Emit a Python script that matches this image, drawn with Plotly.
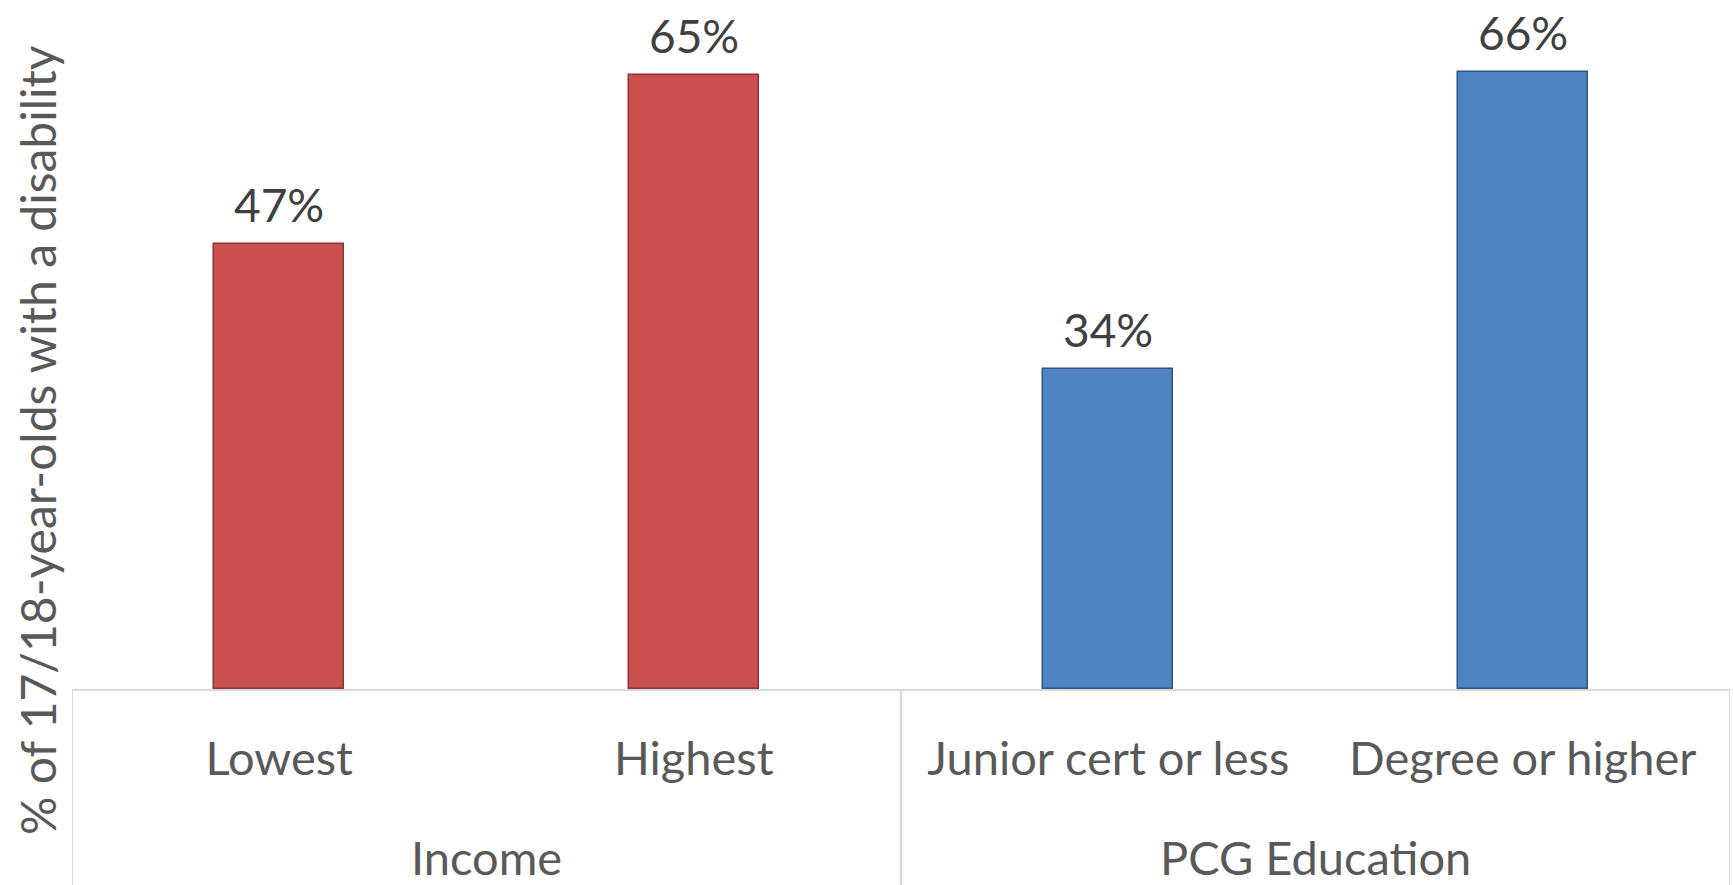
import plotly.graph_objects as go

groups = ["Income", "Income", "PCG Education", "PCG Education"]
categories = ["Lowest", "Highest", "Junior cert or less", "Degree or higher"]
values = [0.473, 0.653, 0.340, 0.656]
bar_colors = ["#C9504E", "#C9504E", "#4F84C4", "#4F84C4"]
line_colors = ["#8E3432", "#8E3432", "#2F5587", "#2F5587"]
y_title = "% of 17/18-year-olds with a disability"

FONT = "Lato"
GRID = "#D9D9D9"
TOP, BOTTOM = 31, 196
PLOT_H = 885 - TOP - BOTTOM

fig = go.Figure()
fig.add_trace(go.Bar(
    x=categories,
    y=values,
    width=0.314,
    marker=dict(color=bar_colors, line=dict(color=line_colors, width=1.5)),
    showlegend=False,
))

annotations = []
# data labels
for c, v in zip(categories, values):
    annotations.append(dict(
        x=c, y=v, xref="x", yref="y", text=f"{v:.0%}", showarrow=False,
        xanchor="center", yanchor="bottom", yshift=10,
        font=dict(family=FONT, size=46, color="#404040"),
    ))

# group labels and dividers
unique_groups = []
for g in groups:
    if g not in unique_groups:
        unique_groups.append(g)
shapes = []
bottom = -BOTTOM / PLOT_H
for g in unique_groups:
    idx = [i for i, gg in enumerate(groups) if gg == g]
    annotations.append(dict(
        x=sum(idx) / len(idx), y=-(857 - (885 - BOTTOM)) / PLOT_H, xref="x", yref="paper",
        text=g, showarrow=False, xanchor="center", yanchor="middle",
        font=dict(family=FONT, size=47, color="#595959"),
    ))
    for edge in (min(idx) - 0.5, max(idx) + 0.5):
        shapes.append(dict(
            type="line", xref="x", yref="paper", x0=edge, x1=edge, y0=0, y1=bottom,
            line=dict(color=GRID, width=2),
        ))

annotations.append(dict(
    text=y_title, textangle=-90, xref="paper", yref="paper",
    x=-0.0211, y=(885 - BOTTOM - 440) / PLOT_H, xanchor="center", yanchor="middle",
    showarrow=False, font=dict(family=FONT, size=48, color="#595959"),
))

fig.update_layout(
    width=1733, height=885,
    margin=dict(l=72, r=3, t=TOP, b=BOTTOM),
    paper_bgcolor="white", plot_bgcolor="white",
    font=dict(family=FONT, size=46, color="#595959"),
    bargap=0,
    xaxis=dict(
        type="category", range=[-0.5, len(categories) - 0.5],
        showline=True, linecolor=GRID, linewidth=2,
        ticks="", ticklabelstandoff=28,
        tickfont=dict(family=FONT, size=47, color="#595959"),
        showgrid=False, zeroline=False,
    ),
    yaxis=dict(range=[0, 0.70], visible=False, showgrid=False, zeroline=False),
    annotations=annotations,
    shapes=shapes,
)

fig.write_html("out.html")
